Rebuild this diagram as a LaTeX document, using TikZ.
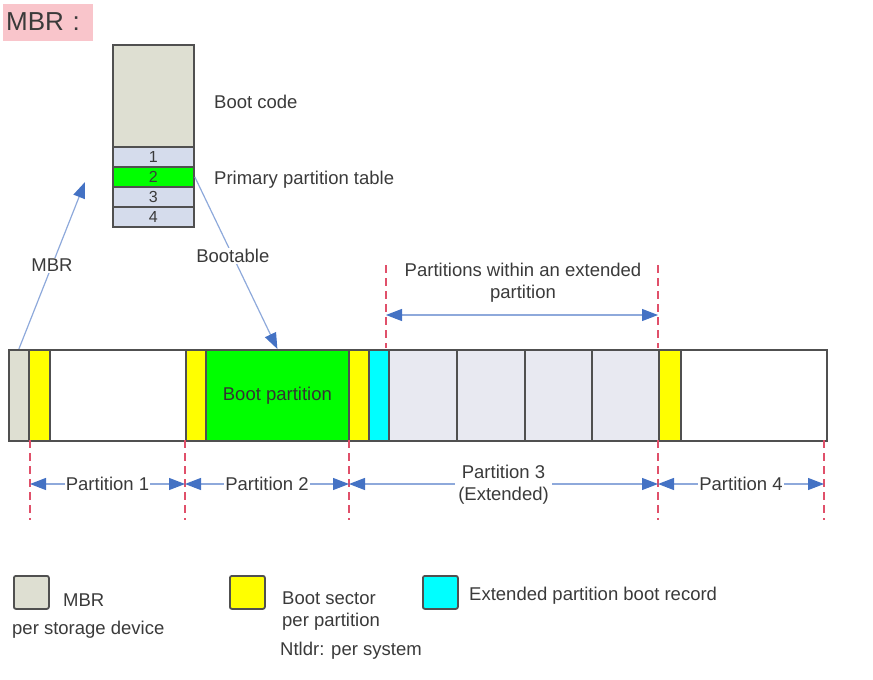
\documentclass[tikz,border=0pt]{standalone}
\usepackage{fontspec}
\setmainfont{Liberation Sans}
\usetikzlibrary{arrows.meta,positioning}
\definecolor{mbrgray}{HTML}{DEDFD2}
\definecolor{rowblue}{HTML}{D5DCEC}
\definecolor{extgray}{HTML}{E8E9F1}
\definecolor{edgegray}{HTML}{505050}
\definecolor{txtgray}{HTML}{3A3A3A}
\definecolor{tipblue}{HTML}{4472C4}
\definecolor{dimblue}{HTML}{8EA9DB}
\definecolor{dashred}{HTML}{E0506A}
\definecolor{pinkbg}{HTML}{F9C5CB}
\definecolor{bootgreen}{HTML}{00FF00}
\definecolor{secyellow}{HTML}{FFFF00}
\definecolor{ebrcyan}{HTML}{00FFFF}

\begin{document}
\begin{tikzpicture}[x=1pt,y=-1pt,
    every node/.style={text=txtgray,font=\fontsize{18.5}{22}\selectfont},
    seg/.style={draw=edgegray,line width=1.8pt,anchor=north west,inner sep=0pt,minimum height=91},
    slot/.style={draw=edgegray,line width=1.8pt,anchor=north west,inner sep=0pt,minimum width=81,minimum height=20,font=\fontsize{16}{18}\selectfont},
    pointer/.style={draw=dimblue,line width=1.2pt,-{Triangle[length=16pt,width=12pt,color=tipblue]}},
    span/.style={draw=dimblue,line width=1.2pt,{Triangle[length=16pt,width=12pt,color=tipblue]}-{Triangle[length=16pt,width=12pt,color=tipblue]}},
    cut/.style={draw=dashred,line width=1.5pt,dash pattern=on 8pt off 5pt},
    legbox/.style={draw=edgegray,line width=1.8pt,rounded corners=2pt,anchor=north west,inner sep=0pt,minimum width=35,minimum height=33},
    lab/.style={fill=white,inner sep=1pt},
    note/.style={anchor=west,inner xsep=0pt}]
  \useasboundingbox (0,0) rectangle (873,680);
  % title
  \node[fill=pinkbg,anchor=west,minimum height=37,text width=84,inner xsep=3pt,font=\fontsize{26}{30}\selectfont] (title) at (3,22) {MBR :};
  % MBR sector layout
  \node[seg,fill=mbrgray,minimum width=81,minimum height=102] (code) at (112,44) {};
  \foreach \i/\c in {1/rowblue,2/bootgreen,3/rowblue,4/rowblue}
    \node[slot,fill=\c] (row\i) at (112,{146+(\i-1)*20}) {\i};
  \node[note] (codelab) at (214,102) {Boot code};
  \node[note] (tablab) at (214,180) {Primary partition table};
  % disk bar
  \node[seg,fill=mbrgray,minimum width=20] (mbr) at (8,349) {};
  \node[seg,fill=secyellow,minimum width=21] (bs1) at (28,349) {};
  \node[seg,fill=white,minimum width=136] (p1) at (49,349) {};
  \node[seg,fill=secyellow,minimum width=20] (bs2) at (185,349) {};
  \node[seg,fill=bootgreen,minimum width=143] (boot) at (205,349) {};
  \node[text=black!80] at (boot.center) {Boot partition};
  \node[seg,fill=secyellow,minimum width=20] (bs3) at (348,349) {};
  \node[seg,fill=ebrcyan,minimum width=20] (ebr) at (368,349) {};
  \foreach \x [count=\k] in {388,456,524,591}
    \node[seg,fill=extgray,minimum width=67.5] (ext\k) at (\x,349) {};
  \node[seg,fill=secyellow,minimum width=22] (bs4) at (658,349) {};
  \node[seg,fill=white,minimum width=146] (p4) at (680,349) {};
  % pointers
  \coordinate (mbrtip) at (85,182);
  \draw[pointer] (mbr.north) -- node[lab] {MBR} (mbrtip);
  \draw[pointer] (row2.east) -- node[lab,pos=.46] {Bootable} (boot.north);
  % cut lines
  \foreach \x in {30,185,349,658,824}
    \draw[cut] (\x,440) -- (\x,520);
  \foreach \x in {386,658}
    \draw[cut] (\x,265) -- (\x,348);
  % spans
  \coordinate (c1) at (30,484);
  \coordinate (c2) at (185,484);
  \coordinate (c3) at (349,484);
  \coordinate (c4) at (658,484);
  \coordinate (c5) at (824,484);
  \draw[span] (c1) -- node[lab] {Partition 1} (c2);
  \draw[span] (c2) -- node[lab] {Partition 2} (c3);
  \draw[span] (c3) -- node[lab,align=center,inner xsep=3pt,yshift=-1pt] {Partition 3\\(Extended)} (c4);
  \draw[span] (c4) -- node[lab] {Partition 4} (c5);
  \coordinate (e1) at (386,315);
  \coordinate (e2) at (658,315);
  \draw[span] (e1) -- (e2);
  \node[align=center] (extlab) at (523,283) {Partitions within an extended\\partition};
  % legend
  \node[legbox,fill=mbrgray] (legmbr) at (13,575) {};
  \node[note] (legmbrlab) at (63,600) {MBR};
  \node[note] (legmbrsub) at (12,630) {per storage device};
  \node[legbox,fill=secyellow] (legbs) at (229,575) {};
  \node[note,align=left] (legbslab) at (282,611) {Boot sector\\per partition};
  \node[note] (legbssub) at (280,651) {Ntldr: per system};
  \node[legbox,fill=ebrcyan] (legebr) at (422,575) {};
  \node[note] (legebrlab) at (469,596) {Extended partition boot record};
\end{tikzpicture}
\end{document}
